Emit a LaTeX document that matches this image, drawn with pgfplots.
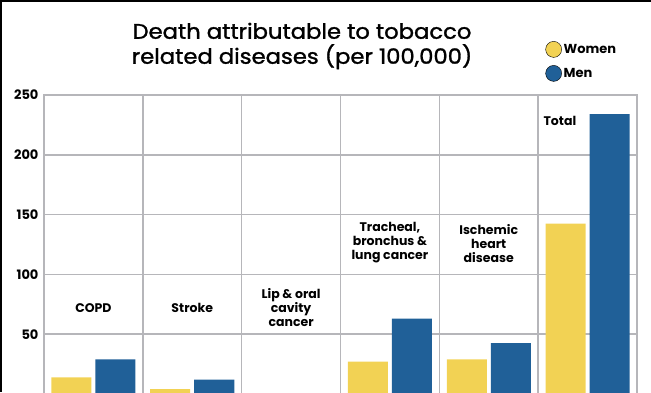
\documentclass[border=0pt]{standalone}
\usepackage{pgfplots}
\pgfplotsset{compat=1.18}
\usepackage{fontspec}
\setmainfont{Poppins}
\newfontfamily\titlefont{Poppins}[FakeBold=1.4, FakeStretch=1.08]
\definecolor{womenc}{RGB}{242,210,84}
\definecolor{menc}{RGB}{32,96,152}
\definecolor{gridc}{RGB}{182,182,186}
\begin{document}
\begin{tikzpicture}[x=1pt,y=1pt]
\useasboundingbox (-44,2) rectangle (607,394);
\begin{axis}[
  at={(0,0)}, anchor=south west,
  scale only axis, width=593pt, height=299pt,
  xmin=-0.5, xmax=5.5, ymin=0, ymax=250,
  xtick={-0.5,0.5,...,5.5}, xticklabels={},
  ytick={50,100,150,200,250},
  xmajorgrids, ymajorgrids,
  major tick length=0pt,
  grid style={gridc, line width=1.5pt},
  axis line style={gridc, line width=1.5pt},
  /pgf/number format/assume math mode=true,
  yticklabel style={font=\bfseries\fontsize{13}{13}\selectfont, xshift=-2pt},
  ybar, bar width=40pt,
  legend style={draw=none, fill=none, font=\bfseries\fontsize{13}{15}\selectfont,
    at={(0.79,1.18)}, anchor=north west, row sep=8pt, inner sep=0pt},
  legend cell align=left,
  legend entries={Women,Men},
  clip=false,
]
\addlegendimage{legend image code/.code={\draw[draw=none, mark=*, mark size=8pt, mark options={fill=womenc, draw=none}] plot coordinates {(7pt,0pt)};}}
\addlegendimage{legend image code/.code={\draw[draw=none, mark=*, mark size=8pt, mark options={fill=menc, draw=none}] plot coordinates {(7pt,0pt)};}}
\addplot[fill=womenc, draw=none, bar shift=-22pt] coordinates {(0,14) (1,4) (2,0.5) (3,27) (4,29) (5,142.5)};
\addplot[fill=menc, draw=none, bar shift=22pt] coordinates {(0,29) (1,12) (2,0.8) (3,63) (4,42.5) (5,234)};
\begin{scope}[every node/.style={font=\bfseries\fontsize{12.5}{14}\selectfont, align=center}]
\node at (axis cs:0,72) {COPD};
\node at (axis cs:1,72) {Stroke};
\node at (axis cs:2,72) {Lip \& oral\\cavity\\cancer};
\node at (axis cs:3,127) {Tracheal,\\bronchus \&\\lung cancer};
\node at (axis cs:4,126) {Ischemic\\heart\\disease};
\node at (axis cs:4.72,228) {Total};
\end{scope}
\end{axis}
\node[font=\titlefont\fontsize{21}{25}\selectfont, align=center] at (258,348) {Death attributable to tobacco\\related diseases (per 100,000)};
\draw[line width=4pt] (-44,2) -- (-44,394) -- (607,394);
\end{tikzpicture}
\end{document}
